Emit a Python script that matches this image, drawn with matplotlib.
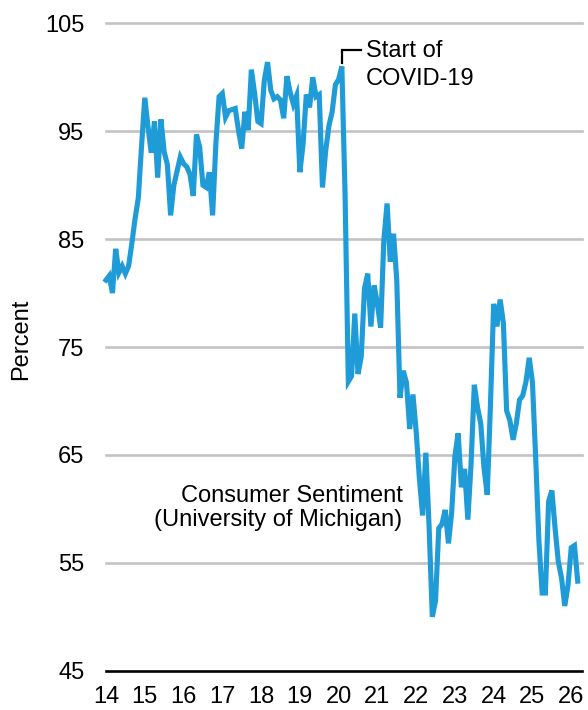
import numpy as np
import matplotlib
matplotlib.use("Agg")
import matplotlib.pyplot as plt

plt.rcParams["font.family"] = ["Liberation Sans", "DejaVu Sans"]

# University of Michigan consumer sentiment, monthly, Jan 2014 - Mar 2026
START_YEAR = 2014
SENTIMENT = [
    81.2, 81.6, 80.0, 84.1, 81.9, 82.5, 81.8, 82.5, 84.6, 86.9, 88.8, 93.6,   # 2014
    98.1, 95.4, 93.0, 95.9, 90.7, 96.1, 93.1, 91.9, 87.2, 90.0, 91.3, 92.6,   # 2015
    92.0, 91.7, 91.0, 89.0, 94.7, 93.5, 90.0, 89.8, 91.2, 87.2, 93.8, 98.2,   # 2016
    98.5, 96.3, 96.9, 97.0, 97.1, 95.1, 93.4, 96.8, 95.1, 100.7, 98.5, 95.9,  # 2017
    95.7, 99.7, 101.4, 98.8, 98.0, 98.2, 97.9, 96.2, 100.1, 98.6, 97.5, 98.3, # 2018
    91.2, 93.8, 98.4, 97.2, 100.0, 98.2, 98.4, 89.8, 93.2, 95.5, 96.8, 99.3,  # 2019
    99.8, 101.0, 89.1, 71.8, 72.3, 78.1, 72.5, 74.1, 80.4, 81.8, 76.9, 80.7,  # 2020
    79.0, 76.8, 84.9, 88.3, 82.9, 85.5, 81.2, 70.3, 72.8, 71.7, 67.4, 70.6,   # 2021
    67.2, 62.8, 59.4, 65.2, 58.4, 50.0, 51.5, 58.2, 58.6, 59.9, 56.8, 59.7,   # 2022
    64.9, 67.0, 62.0, 63.7, 59.0, 64.2, 71.5, 69.4, 67.9, 63.8, 61.3, 69.7,   # 2023
    79.0, 76.9, 79.4, 77.2, 69.1, 68.2, 66.4, 67.9, 70.1, 70.5, 71.8, 74.0,   # 2024
    71.7, 64.7, 57.0, 52.2, 52.2, 60.7, 61.7, 58.2, 55.1, 53.6, 51.0, 52.9,   # 2025
    56.4, 56.6, 53.3,                                                         # 2026
]
YEARS = list(range(2014, 2027))
YEAR_LABELS = [f"{y % 100:02d}" for y in YEARS]
Y_TICKS = [45, 55, 65, 75, 85, 95, 105]
COVID_MONTH = 2020 + 1 / 12   # Feb 2020 peak

BLUE = "#1f9cd8"
FS = 17

t = START_YEAR + np.arange(len(SENTIMENT)) / 12.0

fig = plt.figure(figsize=(5.88, 7.10), dpi=100)
ax = fig.add_axes([106 / 588, 1 - 670.7 / 710, 475.7 / 588, 647.4 / 710])

ax.set_xlim(2014, 2026.27)
ax.set_ylim(45, 105)
ax.set_yticks(Y_TICKS)
ax.set_xticks(YEARS)
ax.set_xticklabels(YEAR_LABELS)
for y in Y_TICKS[1:]:
    ax.axhline(y, color="#c3c3c3", lw=1.9, zorder=1, clip_on=False)

ax.plot(t, SENTIMENT, color=BLUE, lw=3.7, zorder=3, solid_joinstyle="miter",
        clip_on=False)

for sp in ("top", "right", "left"):
    ax.spines[sp].set_visible(False)
ax.spines["bottom"].set_linewidth(1.9)
ax.spines["bottom"].set_color("black")
ax.tick_params(axis="both", length=0, labelsize=FS, colors="black")
ax.tick_params(axis="y", pad=15.5)
ax.tick_params(axis="x", pad=11)
ax.set_ylabel("Percent", fontsize=FS)
ax.yaxis.set_label_coords(-0.155, 0.512)

# COVID bracket
ax.plot([COVID_MONTH, COVID_MONTH, 2020.59], [101.3, 102.5, 102.5],
        color="black", lw=1.6, solid_joinstyle="miter", zorder=4,
        clip_on=False)
for txt, yb in (("Start of", 101.9), ("COVID-19", 99.3)):
    ax.text(2020.70, yb, txt, fontsize=FS, ha="left", va="baseline")

for txt, yb in (("Consumer Sentiment", 60.66), ("(University of Michigan)", 58.4)):
    ax.text(2021.65, yb, txt, fontsize=FS, ha="right", va="baseline")

fig.savefig("out.png", dpi=100)
